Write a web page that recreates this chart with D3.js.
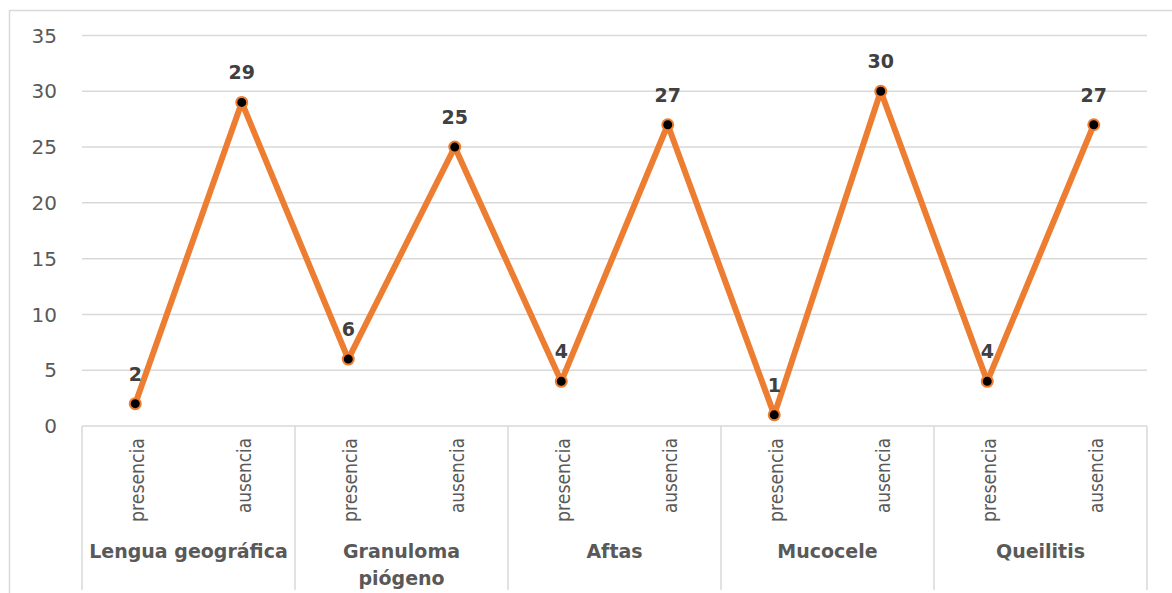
<!DOCTYPE html>
<html>
<head>
  <meta charset="utf-8">
  <title>Lesiones</title>
  <script src="https://cdnjs.cloudflare.com/ajax/libs/d3/7.8.5/d3.min.js"></script>
  <style>
    body { margin: 0; background: #fff; }
    text { font-family: "DejaVu Sans", sans-serif; }
  </style>
</head>
<body>
  <div id="canvas"></div>
  <script>
    // data
    var groups = ["Lengua geográfica", "Granuloma piógeno", "Aftas", "Mucocele", "Queilitis"];
    var groupLines = [["Lengua geográfica"], ["Granuloma", "piógeno"], ["Aftas"], ["Mucocele"], ["Queilitis"]];
    var subCats = ["presencia", "ausencia"];
    var values = [2, 29, 6, 25, 4, 27, 1, 30, 4, 27];
    var yTicks = [0, 5, 10, 15, 20, 25, 30, 35];

    var width = 1172, height = 593,
      plot = { left: 82, right: 1147, top: 35.5, bottom: 426 },
      gridColor = "#d9d9d9";

    var points = values.map(function (v, i) {
      return { i: i, value: v, sub: subCats[i % 2], group: Math.floor(i / 2) };
    });

    var svg = d3.select("#canvas").append("svg")
      .attr("width", width)
      .attr("height", height);

    // outer chart border
    svg.append("rect")
      .attr("x", 9.5).attr("y", 10.5)
      .attr("width", width + 20).attr("height", height + 20)
      .attr("fill", "none")
      .attr("stroke", gridColor)
      .attr("stroke-width", 1.5);

    var x = d3.scaleBand()
      .domain(d3.range(values.length))
      .range([plot.left, plot.right]);
    var cx = function (i) { return x(i) + x.bandwidth() / 2; };

    var y = d3.scaleLinear()
      .domain([0, 35])
      .range([plot.bottom, plot.top]);

    // gridlines
    svg.append("g").selectAll("line")
      .data(yTicks)
      .enter().append("line")
      .attr("x1", plot.left).attr("x2", plot.right)
      .attr("y1", function (d) { return y(d); })
      .attr("y2", function (d) { return y(d); })
      .attr("stroke", gridColor)
      .attr("stroke-width", 1.5);

    // y tick labels
    svg.append("g").selectAll("text")
      .data(yTicks)
      .enter().append("text")
      .attr("x", 57)
      .attr("y", function (d) { return y(d); })
      .attr("dy", "0.36em")
      .attr("text-anchor", "end")
      .attr("fill", "#595959")
      .style("font-size", "20px")
      .text(function (d) { return d; });

    // group separators below the axis
    var sepX = d3.range(groups.length + 1).map(function (k) {
      return k < groups.length ? x(k * 2) : plot.right;
    });
    svg.append("g").selectAll("line")
      .data(sepX)
      .enter().append("line")
      .attr("x1", function (d) { return d; })
      .attr("x2", function (d) { return d; })
      .attr("y1", plot.bottom)
      .attr("y2", 590)
      .attr("stroke", gridColor)
      .attr("stroke-width", 1.5);

    // rotated sub category labels
    svg.append("g").selectAll("text")
      .data(points)
      .enter().append("text")
      .attr("transform", function (d) {
        return "translate(" + (cx(d.i) + 9) + ",438) rotate(-90)";
      })
      .attr("text-anchor", "end")
      .attr("fill", "#595959")
      .attr("textLength", function (d) { return d.sub === "presencia" ? 84 : 75; })
      .attr("lengthAdjust", "spacingAndGlyphs")
      .style("font-size", "19px")
      .text(function (d) { return d.sub; });

    // group labels
    var gl = svg.append("g").selectAll("text")
      .data(groupLines)
      .enter().append("text")
      .attr("x", function (d, k) { return (x(k * 2) + x(k * 2 + 1) + x.bandwidth()) / 2; })
      .attr("y", 558)
      .attr("text-anchor", "middle")
      .attr("fill", "#595959")
      .style("font-size", "19px")
      .style("font-weight", "bold");
    gl.selectAll("tspan")
      .data(function (d) { return d; })
      .enter().append("tspan")
      .attr("x", function () { return d3.select(this.parentNode).attr("x"); })
      .attr("dy", function (d, j) { return j === 0 ? 0 : 27; })
      .text(function (d) { return d; });

    // line
    var line = d3.line()
      .x(function (d) { return cx(d.i); })
      .y(function (d) { return y(d.value); });

    svg.append("path")
      .datum(points)
      .attr("d", line)
      .attr("fill", "none")
      .attr("stroke", "#ED7D31")
      .attr("stroke-width", 6)
      .attr("stroke-linejoin", "round");

    // markers
    svg.append("g").selectAll("circle")
      .data(points)
      .enter().append("circle")
      .attr("cx", function (d) { return cx(d.i); })
      .attr("cy", function (d) { return y(d.value); })
      .attr("r", 5.5)
      .attr("fill", "#000")
      .attr("stroke", "#ED7D31")
      .attr("stroke-width", 2);

    // data labels
    svg.append("g").selectAll("text")
      .data(points)
      .enter().append("text")
      .attr("x", function (d) { return cx(d.i); })
      .attr("y", function (d) { return y(d.value) - 23; })
      .attr("text-anchor", "middle")
      .attr("fill", "#404040")
      .style("font-size", "19px")
      .style("font-weight", "bold")
      .text(function (d) { return d.value; });
  </script>
</body>
</html>
